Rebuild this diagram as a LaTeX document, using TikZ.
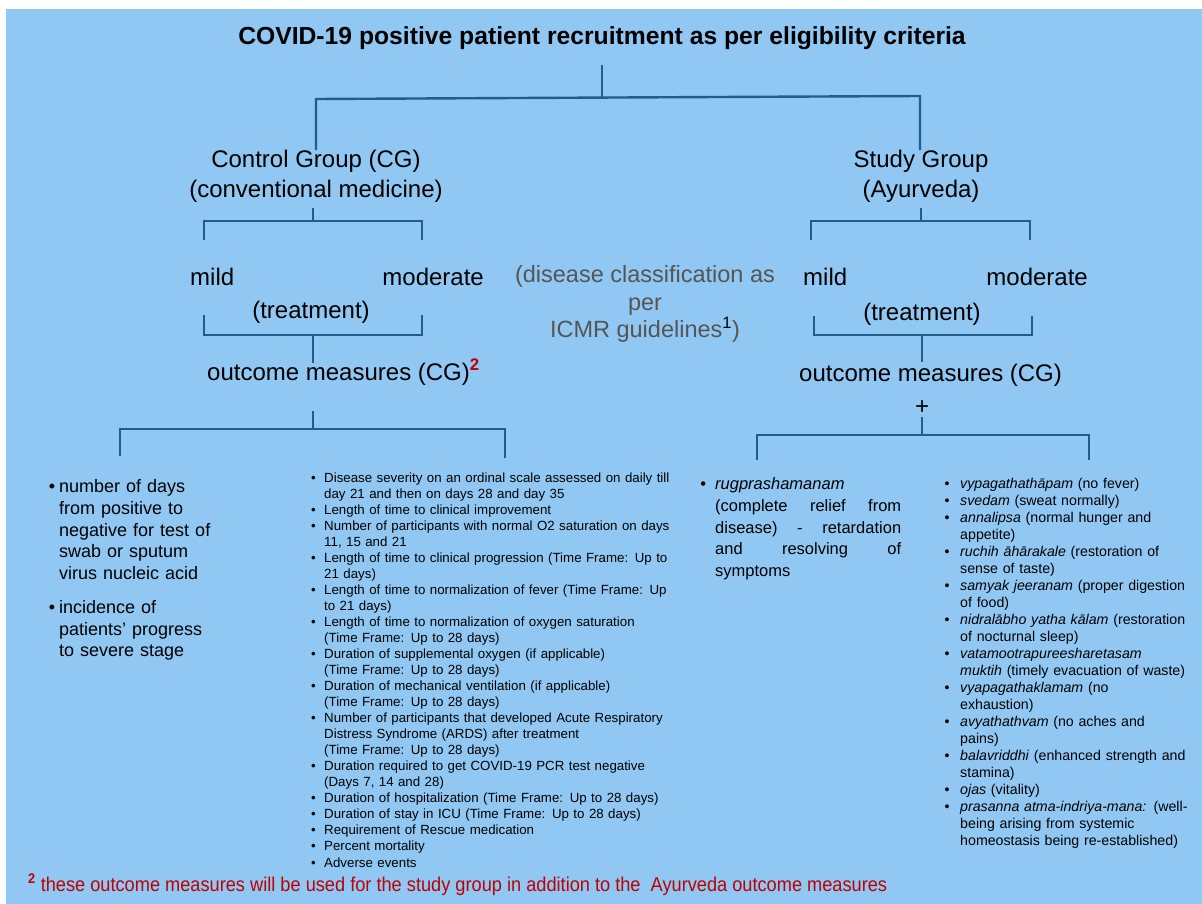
\documentclass[tikz,border=0pt]{standalone}
\usepackage{fontspec}
\setmainfont{Liberation Sans}
\usepackage{enumitem}
\usetikzlibrary{positioning}
\definecolor{bgblue}{RGB}{144,200,243}
\definecolor{linkblue}{RGB}{31,94,140}
\definecolor{notered}{RGB}{192,0,0}
\definecolor{guidegrey}{RGB}{85,85,85}

\begin{document}
\begin{tikzpicture}[x=1pt, y=-1pt, inner sep=0pt,
    link/.style={linkblue, line width=2.4pt},
    grouplabel/.style={font=\fontsize{24}{30}\selectfont, align=center},
    level/.style={font=\fontsize{24}{30}\selectfont},
    listbox/.style={anchor=north west, align=left}]
  \useasboundingbox (0,0) rectangle (1202,904);
  \fill[white] (0,0) rectangle (1202,904);
  \fill[bgblue] (6,9) rectangle (1202,904);

  % title and the two groups
  \node[anchor=base, font=\fontsize{24.7}{30}\selectfont\bfseries] (title) at (602,45)
    {COVID-19 positive patient recruitment as per eligibility criteria};
  \node[grouplabel] (cg) at (316,176.5) {Control Group (CG)\\(conventional medicine)};
  \node[grouplabel] (sg) at (921,176.5) {Study Group\\(Ayurveda)};

  % severity levels
  \node[level, anchor=base west] (cgmild) at (190,285) {mild};
  \node[level, anchor=base east] (cgmod) at (484,285) {moderate};
  \node[level, anchor=base] (cgtreat) at (311,318) {(treatment)};
  \node[level, anchor=base west] (sgmild) at (803,285) {mild};
  \node[level, anchor=base east] (sgmod) at (1088,285) {moderate};
  \node[level, anchor=base] (sgtreat) at (922,320) {(treatment)};
  \node[grouplabel, font=\fontsize{23.5}{27.5}\selectfont, text=guidegrey] (icmr) at (645,304)
    {(disease classification as\\per\\ICMR guidelines{\color{black}\textsuperscript{1}})};

  % outcome measures
  \node[level, anchor=base west] (cgout) at (207,380)
    {outcome measures (CG){\color{notered}\textsuperscript{\bfseries 2}}};
  \node[level, anchor=base west] (sgout) at (799,381) {outcome measures (CG)};
  \node[level] (plus) at (922,408) {+};

  % connectors
  \coordinate (top) at (602,65);
  \coordinate (topj) at (602,97.6);
  \coordinate (cgj) at (316,99);
  \coordinate (sgj) at (920,96);
  \draw[link] (top) -- (topj);
  \draw[link] (cgj |- cg.north) -- (cgj) -- (sgj) -- (sgj |- sg.north);

  \coordinate (cgl1) at (204,221);
  \coordinate (cgr1) at (422,221);
  \draw[link] (313,208) -- (313,221);
  \draw[link] (204,240) -- (cgl1) -- (cgr1) -- (422,240);
  \coordinate (cgl2) at (204,335);
  \coordinate (cgr2) at (422,335);
  \draw[link] (204,315) -- (cgl2) -- (cgr2) -- (422,315);
  \draw[link] (313,335) -- (313,363);
  \coordinate (cgl3) at (120,429);
  \coordinate (cgr3) at (505,429);
  \draw[link] (313,411) -- (313,429);
  \draw[link] (120,456) -- (cgl3) -- (cgr3) -- (505,458);

  \coordinate (sgl1) at (811,221);
  \coordinate (sgr1) at (1030,221);
  \draw[link] (921,208) -- (921,221);
  \draw[link] (811,240) -- (sgl1) -- (sgr1) -- (1030,240);
  \coordinate (sgl2) at (814,335);
  \coordinate (sgr2) at (1032,335);
  \draw[link] (814,316) -- (sgl2) -- (sgr2) -- (1032,316);
  \draw[link] (922,335) -- (922,362);
  \coordinate (sgl3) at (757,435);
  \coordinate (sgr3) at (1089,435);
  \draw[link] (922,417) -- (922,435);
  \draw[link] (757,460) -- (sgl3) -- (sgr3) -- (1089,460);

  % outcome lists
  \node[listbox, text width=220pt, font=\fontsize{18}{21.75}\selectfont] (cgdays) at (48,470.6) {%
    \begin{itemize}[nosep, leftmargin=11pt, labelsep=4pt, itemsep=12pt]
    \item number of days\newline from positive to\newline negative for test of\newline swab or sputum\newline virus nucleic acid
    \item incidence of\newline patients’ progress\newline to severe stage
    \end{itemize}};
  \node[listbox, text width=375pt, font=\fontsize{13.3}{16.04}\selectfont] (cgmeasures) at (308,465.8) {%
    \begin{itemize}[nosep, leftmargin=16pt, labelsep=8.5pt]
    \item Disease severity on an ordinal scale assessed on daily till\newline day 21 and then on days 28 and day 35
    \item Length of time to clinical improvement
    \item Number of participants with normal O2 saturation on days\newline 11, 15 and 21
    \item Length of time to clinical progression (Time Frame: Up to\newline 21 days)
    \item Length of time to normalization of fever (Time Frame: Up\newline to 21 days)
    \item Length of time to normalization of oxygen saturation\newline (Time Frame: Up to 28 days)
    \item Duration of supplemental oxygen (if applicable)\newline (Time Frame: Up to 28 days)
    \item Duration of mechanical ventilation (if applicable)\newline (Time Frame: Up to 28 days)
    \item Number of participants that developed Acute Respiratory\newline Distress Syndrome (ARDS) after treatment\newline (Time Frame: Up to 28 days)
    \item Duration required to get COVID-19 PCR test negative\newline (Days 7, 14 and 28)
    \item Duration of hospitalization (Time Frame: Up to 28 days)
    \item Duration of stay in ICU (Time Frame: Up to 28 days)
    \item Requirement of Rescue medication
    \item Percent mortality
    \item Adverse events
    \end{itemize}};
  \node[listbox, align=justify, text width=206pt, font=\fontsize{16.5}{21.6}\selectfont] (sgrelief) at (695,468) {%
    \begin{itemize}[nosep, leftmargin=20pt, labelsep=9pt]
    \item \emph{rugprashamanam}\newline (complete relief from\linebreak disease) - retardation\linebreak and resolving of\linebreak symptoms
    \end{itemize}};
  \node[listbox, text width=265pt, font=\fontsize{14.2}{17}\selectfont] (sgmeasures) at (940,471.3) {%
    \begin{itemize}[nosep, leftmargin=20pt, labelsep=10.5pt]
    \item \emph{vypagathathāpam} (no fever)
    \item \emph{svedam} (sweat normally)
    \item \emph{annalipsa} (normal hunger and\newline appetite)
    \item \emph{ruchih āhārakale} (restoration of\newline sense of taste)
    \item \emph{samyak jeeranam} (proper digestion\newline of food)
    \item \emph{nidralābho yatha kālam} (restoration\newline of nocturnal sleep)
    \item \emph{vatamootrapureesharetasam}\newline \emph{muktih} (timely evacuation of waste)
    \item \emph{vyapagathaklamam} (no\newline exhaustion)
    \item \emph{avyathathvam} (no aches and\newline pains)
    \item \emph{balavriddhi} (enhanced strength and\newline stamina)
    \item \emph{ojas} (vitality)
    \item \emph{prasanna atma-indriya-mana:} (well-\newline being arising from systemic\newline homeostasis being re-established)
    \end{itemize}};

  % footnote
  \node[anchor=base west, xscale=0.91, text=notered, font=\fontsize{20}{24}\selectfont] (note) at (28,891)
    {\textsuperscript{\bfseries 2} these outcome measures will be used for the study group in addition to the \ Ayurveda outcome measures};
\end{tikzpicture}
\end{document}
